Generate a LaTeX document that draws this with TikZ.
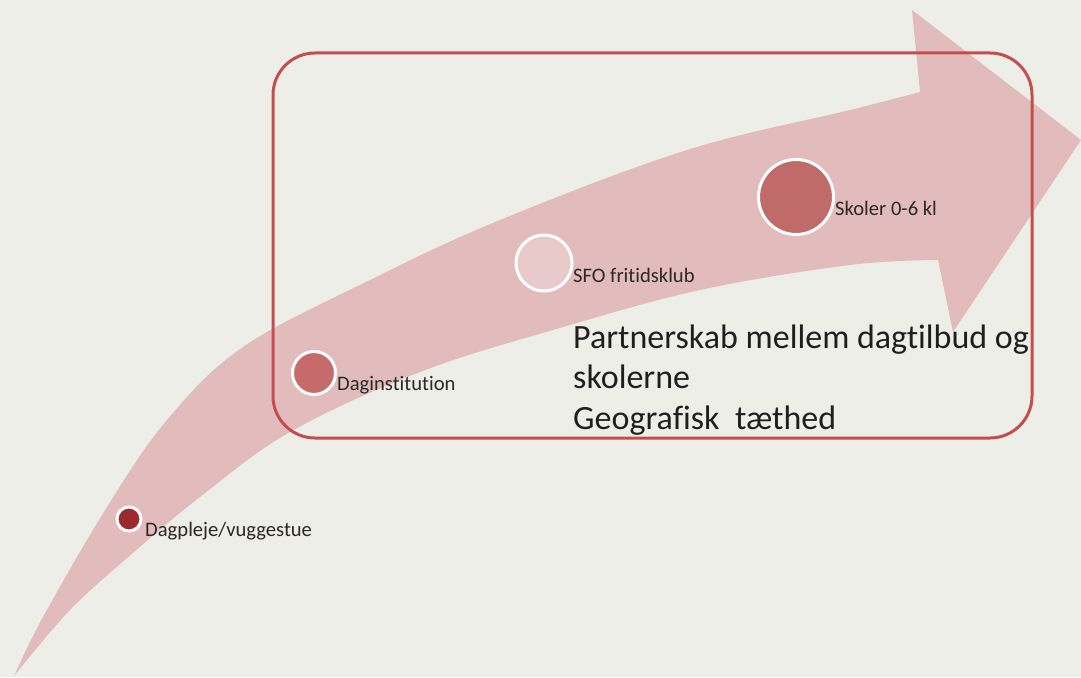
\documentclass[tikz,border=0pt]{standalone}
\usepackage{fontspec}
\setmainfont{Carlito}[Ligatures=NoCommon]
\definecolor{bg}{RGB}{238,238,233}
\definecolor{arrowpink}{RGB}{226,188,188}
\definecolor{boxred}{RGB}{196,78,78}
\definecolor{dotA}{RGB}{155,43,46}
\definecolor{dotB}{RGB}{197,107,107}
\definecolor{dotC}{RGB}{232,202,202}
\definecolor{dotD}{RGB}{192,106,106}
\definecolor{labelgray}{RGB}{45,40,40}
\tikzset{
  dot/.style={circle, draw=white, line width=3pt, inner sep=0pt},
  smalllabel/.style={anchor=base west, inner sep=0pt, text=labelgray, font=\fontsize{20.6}{24}\selectfont},
  bigtext/.style={anchor=base west, inner sep=0pt, align=left, text=black!88, font=\fontsize{34}{40.5}\selectfont},
  frame/.style={draw=boxred, line width=3pt, rounded corners=42pt}
}
\begin{document}
\begin{tikzpicture}[x=1pt,y=-1pt]
\fill[bg] (0,0) rectangle (1081,677);
\useasboundingbox (0,0) rectangle (1081,677);
% curved arrow
\fill[arrowpink]
  plot[smooth, tension=0.6] coordinates {(14,676) (43,617) (107,507) (167,420) (243,347) (370,280) (500,220) (687,150) (850,110) (920,92)}
  -- (912,10) -- (1081,140) -- (953,332) -- (938,260)
  -- plot[smooth, tension=0.6] coordinates {(938,260) (850,265) (700,290) (553,330) (420,372) (290,432) (200,497) (133,553) (70,610) (14,676)}
  -- cycle;
% frame
\node[frame, minimum width=759pt, minimum height=385pt, inner sep=0pt] (box) at (652.5,245.5) {};
% dots
\node[dot, minimum size=24pt, fill=dotA] (d1) at (129,519) {};
\node[dot, minimum size=43pt, fill=dotB] (d2) at (314,373) {};
\node[dot, minimum size=56pt, fill=dotC] (d3) at (544,263) {};
\node[dot, minimum size=75pt, fill=dotD] (d4) at (796,197) {};
% labels
\node[smalllabel] (l1) at (145,536) {Dagpleje/vuggestue};
\node[smalllabel] (l2) at (337,390) {Daginstitution};
\node[smalllabel] (l3) at (573,282) {SFO fritidsklub};
\node[smalllabel] (l4) at (835,215) {Skoler 0-6 kl};
% main text (base anchor = baseline of the last line)
\node[bigtext] (txt) at (573,429) {Partnerskab mellem dagtilbud og\\skolerne\\Geografisk\ \ tæthed};
\end{tikzpicture}
\end{document}
